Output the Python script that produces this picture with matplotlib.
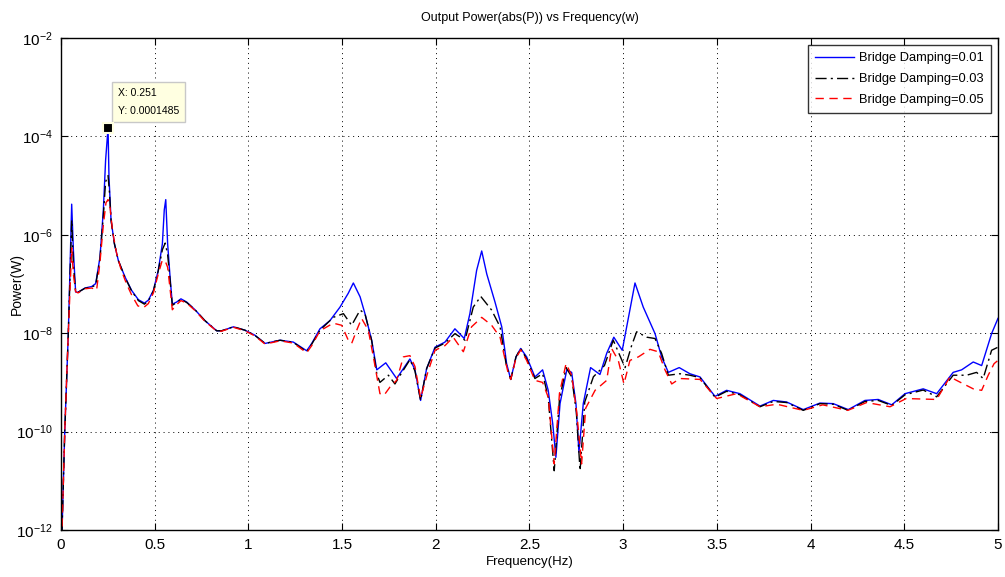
import matplotlib
matplotlib.use("Agg")
import matplotlib.pyplot as plt
from matplotlib.ticker import FixedLocator, FuncFormatter, NullLocator

plt.rcParams['font.family'] = ['Liberation Sans', 'DejaVu Sans']
plt.rcParams['mathtext.default'] = 'regular'

# Frequency response for bridge damping 0.01
freq_d001 = [0.002, 0.020, 0.039, 0.057, 0.066, 0.078, 0.091, 0.128, 0.164, 0.185,
             0.208, 0.226, 0.238, 0.251, 0.256, 0.267, 0.285, 0.306, 0.342, 0.377,
             0.413, 0.445, 0.466, 0.493, 0.519, 0.541, 0.551, 0.559, 0.569, 0.582,
             0.594, 0.617, 0.640, 0.671, 0.715, 0.768, 0.831, 0.857, 0.920, 0.982,
             1.035, 1.089, 1.169, 1.240, 1.311, 1.338, 1.382, 1.435, 1.489, 1.533,
             1.560, 1.596, 1.622, 1.658, 1.685, 1.733, 1.791, 1.862, 1.889, 1.919,
             1.951, 1.996, 2.049, 2.102, 2.152, 2.182, 2.218, 2.245, 2.272, 2.316,
             2.352, 2.378, 2.400, 2.428, 2.453, 2.485, 2.529, 2.570, 2.600, 2.624,
             2.641, 2.663, 2.699, 2.725, 2.748, 2.764, 2.787, 2.826, 2.876, 2.912,
             2.950, 2.995, 3.036, 3.063, 3.107, 3.170, 3.205, 3.241, 3.299, 3.356,
             3.410, 3.490, 3.552, 3.623, 3.730, 3.801, 3.872, 3.961, 4.050, 4.121,
             4.201, 4.290, 4.361, 4.433, 4.504, 4.601, 4.673, 4.761, 4.806, 4.868,
             4.913, 4.966, 5.000]
power_d001 = [3.2e-13, 1.0e-10, 1.0e-8, 4.2e-6, 4.9e-7, 6.9e-8, 6.8e-8, 8.3e-8, 8.9e-8, 1.02e-7,
              3.5e-7, 3.2e-6, 3.3e-5, 1.485e-4, 1.5e-5, 2.0e-6, 6.6e-7, 3.0e-7, 1.38e-7, 7.4e-8,
              4.8e-8, 4.1e-8, 4.7e-8, 7.4e-8, 1.9e-7, 6.6e-7, 3.2e-6, 5.2e-6, 6.6e-7, 1.38e-7,
              3.9e-8, 4.3e-8, 5.0e-8, 4.3e-8, 3.0e-8, 1.8e-8, 1.12e-8, 1.12e-8, 1.35e-8, 1.15e-8,
              9.1e-9, 6.2e-9, 7.2e-9, 6.6e-9, 4.4e-9, 6.2e-9, 1.23e-8, 1.8e-8, 3.4e-8, 6.5e-8,
              1.05e-7, 5.5e-8, 2.5e-8, 7.2e-9, 1.8e-9, 2.5e-9, 1.2e-9, 3.0e-9, 1.8e-9, 4.3e-10,
              1.9e-9, 5.2e-9, 6.6e-9, 1.23e-8, 7.8e-9, 2.5e-8, 1.9e-7, 4.7e-7, 1.6e-7, 4.3e-8,
              1.35e-8, 2.4e-9, 1.15e-9, 3.3e-9, 4.9e-9, 3.3e-9, 1.29e-9, 1.8e-9, 6.9e-10, 1.45e-10,
              3.0e-11, 3.7e-10, 1.8e-9, 1.6e-9, 3.7e-10, 3.8e-11, 3.7e-10, 2.0e-9, 1.45e-9, 3.9e-9,
              8.3e-9, 4.5e-9, 3.0e-8, 1.05e-7, 3.4e-8, 9.8e-9, 3.3e-9, 1.6e-9, 2.0e-9, 1.5e-9,
              1.29e-9, 5.2e-10, 6.9e-10, 5.9e-10, 3.3e-10, 4.3e-10, 4.0e-10, 2.8e-10, 3.8e-10, 3.7e-10,
              2.8e-10, 4.3e-10, 4.5e-10, 3.5e-10, 5.9e-10, 7.4e-10, 5.9e-10, 1.6e-9, 1.8e-9, 2.6e-9,
              2.2e-9, 9.8e-9, 2.0e-8]

# Frequency response for bridge damping 0.03
freq_d003 = [0.002, 0.020, 0.039, 0.057, 0.066, 0.078, 0.091, 0.128, 0.164, 0.185,
             0.208, 0.226, 0.238, 0.251, 0.258, 0.267, 0.285, 0.306, 0.342, 0.377,
             0.413, 0.445, 0.466, 0.493, 0.519, 0.541, 0.556, 0.569, 0.582, 0.594,
             0.617, 0.640, 0.671, 0.715, 0.768, 0.831, 0.857, 0.920, 0.982, 1.035,
             1.089, 1.169, 1.240, 1.311, 1.338, 1.382, 1.453, 1.507, 1.551, 1.596,
             1.622, 1.658, 1.685, 1.702, 1.747, 1.782, 1.810, 1.862, 1.889, 1.919,
             1.951, 1.996, 2.049, 2.102, 2.156, 2.200, 2.240, 2.298, 2.343, 2.375,
             2.400, 2.428, 2.453, 2.485, 2.529, 2.570, 2.600, 2.632, 2.660, 2.695,
             2.725, 2.750, 2.770, 2.795, 2.841, 2.900, 2.947, 3.010, 3.045, 3.072,
             3.126, 3.170, 3.205, 3.241, 3.303, 3.356, 3.410, 3.490, 3.552, 3.623,
             3.730, 3.801, 3.872, 3.961, 4.050, 4.121, 4.201, 4.290, 4.361, 4.433,
             4.504, 4.601, 4.673, 4.761, 4.833, 4.886, 4.921, 4.966, 5.000]
power_d003 = [3.2e-13, 1.0e-10, 1.0e-8, 2.0e-6, 2.5e-7, 7.0e-8, 6.8e-8, 8.2e-8, 8.7e-8, 9.5e-8,
              3.3e-7, 2.5e-6, 1.2e-5, 1.6e-5, 7.9e-6, 2.0e-6, 6.6e-7, 3.0e-7, 1.35e-7, 7.2e-8,
              4.6e-8, 3.9e-8, 4.5e-8, 7.2e-8, 1.85e-7, 5.0e-7, 6.8e-7, 4.0e-7, 1.2e-7, 3.7e-8,
              4.2e-8, 4.9e-8, 4.2e-8, 3.0e-8, 1.8e-8, 1.12e-8, 1.12e-8, 1.35e-8, 1.15e-8, 9.0e-9,
              6.2e-9, 7.2e-9, 6.5e-9, 4.2e-9, 6.0e-9, 1.15e-8, 2.1e-8, 2.5e-8, 1.45e-8, 2.95e-8,
              2.5e-8, 7.0e-9, 1.5e-9, 1.0e-9, 1.4e-9, 9.3e-10, 1.4e-9, 2.9e-9, 1.7e-9, 4.3e-10,
              1.9e-9, 5.0e-9, 6.3e-9, 9.8e-9, 7.2e-9, 3.4e-8, 5.6e-8, 2.95e-8, 1.35e-8, 2.4e-9,
              1.15e-9, 3.3e-9, 4.9e-9, 3.0e-9, 1.2e-9, 1.5e-9, 5.0e-10, 1.6e-11, 4.5e-10, 2.0e-9,
              1.3e-9, 2.5e-10, 1.6e-11, 4.0e-10, 1.3e-9, 2.2e-9, 7.2e-9, 2.0e-9, 5.6e-9, 1.07e-8,
              8.3e-9, 7.8e-9, 3.9e-9, 1.4e-9, 1.5e-9, 1.4e-9, 1.25e-9, 5.0e-10, 6.6e-10, 5.6e-10,
              3.2e-10, 4.1e-10, 3.9e-10, 2.7e-10, 3.7e-10, 3.6e-10, 2.7e-10, 4.1e-10, 4.3e-10, 3.4e-10,
              5.6e-10, 7.0e-10, 5.1e-10, 1.4e-9, 1.4e-9, 1.6e-9, 1.2e-9, 4.5e-9, 5.2e-9]

# Frequency response for bridge damping 0.05
freq_d005 = [0.002, 0.020, 0.039, 0.057, 0.066, 0.078, 0.091, 0.128, 0.164, 0.190,
             0.208, 0.226, 0.240, 0.251, 0.262, 0.275, 0.295, 0.320, 0.350, 0.377,
             0.410, 0.440, 0.466, 0.493, 0.519, 0.540, 0.555, 0.569, 0.582, 0.594,
             0.617, 0.640, 0.671, 0.715, 0.768, 0.831, 0.857, 0.920, 0.982, 1.035,
             1.089, 1.169, 1.240, 1.311, 1.338, 1.382, 1.453, 1.498, 1.533, 1.551,
             1.578, 1.604, 1.640, 1.667, 1.702, 1.724, 1.756, 1.791, 1.827, 1.862,
             1.889, 1.919, 1.955, 1.996, 2.049, 2.093, 2.147, 2.191, 2.245, 2.298,
             2.343, 2.387, 2.400, 2.428, 2.453, 2.485, 2.529, 2.570, 2.600, 2.632,
             2.660, 2.695, 2.725, 2.752, 2.778, 2.800, 2.850, 2.912, 2.938, 2.974,
             3.004, 3.036, 3.081, 3.143, 3.187, 3.223, 3.259, 3.303, 3.410, 3.499,
             3.605, 3.730, 3.820, 3.961, 4.065, 4.199, 4.299, 4.424, 4.510, 4.673,
             4.744, 4.779, 4.868, 4.913, 4.948, 4.979, 5.000]
power_d005 = [3.2e-13, 1.0e-10, 1.0e-8, 5.4e-7, 1.6e-7, 7.0e-8, 6.6e-8, 8.0e-8, 8.3e-8, 7.5e-8,
              2.8e-7, 1.6e-6, 4.5e-6, 5.2e-6, 3.5e-6, 1.2e-6, 4.5e-7, 2.0e-7, 1.0e-7, 6.0e-8,
              3.6e-8, 3.3e-8, 4.0e-8, 6.6e-8, 1.6e-7, 3.0e-7, 3.0e-7, 2.2e-7, 8.0e-8, 3.0e-8,
              3.8e-8, 4.6e-8, 4.1e-8, 2.9e-8, 1.75e-8, 1.1e-8, 1.1e-8, 1.32e-8, 1.12e-8, 8.8e-9,
              6.0e-9, 7.0e-9, 6.3e-9, 4.0e-9, 5.6e-9, 1.12e-8, 1.6e-8, 1.45e-8, 7.2e-9, 6.2e-9,
              1.15e-8, 2.0e-8, 1.15e-8, 3.3e-9, 5.9e-10, 5.5e-10, 8.1e-10, 1.1e-9, 3.3e-9, 3.5e-9,
              2.1e-9, 4.8e-10, 1.5e-9, 4.5e-9, 5.6e-9, 8.3e-9, 4.2e-9, 1.35e-8, 2.1e-8, 1.45e-8,
              8.3e-9, 1.5e-9, 1.15e-9, 3.1e-9, 4.6e-9, 2.8e-9, 1.1e-9, 1.0e-9, 5.0e-10, 2.2e-11,
              6.0e-10, 2.4e-9, 1.4e-9, 2.5e-10, 2.2e-11, 3.0e-10, 6.9e-10, 1.1e-9, 4.9e-9, 2.8e-9,
              9.3e-10, 2.8e-9, 3.3e-9, 4.7e-9, 4.2e-9, 1.8e-9, 9.3e-10, 1.2e-9, 1.15e-9, 4.7e-10,
              5.9e-10, 3.2e-10, 3.6e-10, 2.7e-10, 3.5e-10, 2.7e-10, 3.9e-10, 3.2e-10, 4.7e-10, 4.5e-10,
              1.3e-9, 1.1e-9, 7.4e-10, 6.9e-10, 1.4e-9, 2.4e-9, 2.8e-9]

series_labels = ['Bridge Damping=0.01', 'Bridge Damping=0.03', 'Bridge Damping=0.05']
x_ticks = [0, 0.5, 1, 1.5, 2, 2.5, 3, 3.5, 4, 4.5, 5]
y_ticks = [1e-12, 1e-10, 1e-8, 1e-6, 1e-4, 1e-2]
tip_x = 0.251
tip_y = 0.0001485

fig = plt.figure(figsize=(10.05, 5.77), dpi=100)
ax = fig.add_axes([0.0607, 0.0815, 0.9323, 0.8525])

ax.plot(freq_d001, power_d001, color='#0000ff', lw=1.0, ls='-', label=series_labels[0])
ax.plot(freq_d003, power_d003, color='black', lw=1.0, ls=(0, (8, 3, 1.5, 3)), label=series_labels[1])
ax.plot(freq_d005, power_d005, color='#ff0000', lw=1.0, ls=(0, (6, 4)), label=series_labels[2])

ax.set_yscale('log')
ax.set_xlim(0, 5)
ax.set_ylim(1e-12, 1e-2)
ax.xaxis.set_major_locator(FixedLocator(x_ticks))
ax.xaxis.set_major_formatter(FuncFormatter(lambda v, p: f'{v:g}'))
ax.yaxis.set_major_locator(FixedLocator(y_ticks))
ax.yaxis.set_minor_locator(NullLocator())
ax.tick_params(which='both', direction='in', top=True, right=True, length=5,
               width=0.8, labelsize=11, pad=6)
for s in ax.spines.values():
    s.set_linewidth(1.0)
ax.grid(True, which='major', ls=(0, (1, 4)), color='black', lw=0.7)

ax.set_title('Output Power(abs(P)) vs Frequency(w)', fontsize=9, pad=12)
ax.set_xlabel('Frequency(Hz)', fontsize=9.5, labelpad=3)
ax.set_ylabel('Power(W)', fontsize=10)
ax.yaxis.set_label_coords(-0.040, 0.5)

leg = ax.legend(loc='upper right', fontsize=9.3, frameon=True, fancybox=False,
                edgecolor='black', borderpad=0.55, labelspacing=0.68,
                handlelength=3.0, handletextpad=0.4, borderaxespad=0.55)
leg.get_frame().set_linewidth(1.0)

# data cursor at the main resonance
ax.plot([tip_x], [tip_y], marker='s', ms=7, mfc='black', mec='#ffffe1', mew=1.5,
        zorder=5)
ax.annotate(f'X: {tip_x:g}\nY: {tip_y:.7f}', xy=(tip_x, tip_y), xytext=(7, 9),
            textcoords='offset points', fontsize=7.5, va='bottom', ha='left',
            linespacing=1.9,
            bbox=dict(boxstyle='square,pad=0.6', fc='#ffffe1', ec='#c8c8c8', lw=1.0))

fig.savefig('out.png', dpi=100)
